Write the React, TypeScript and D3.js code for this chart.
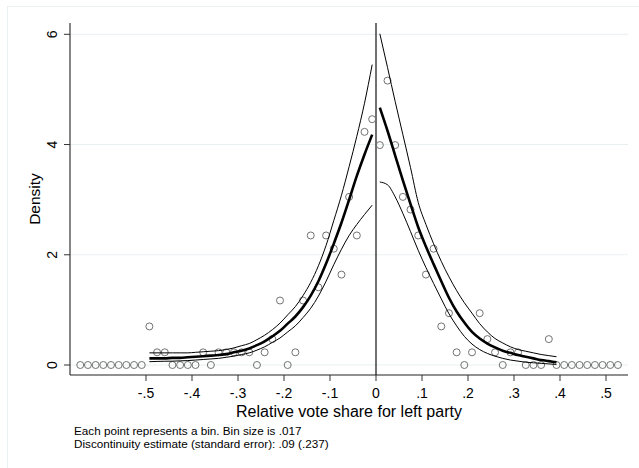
import React, { useEffect, useRef } from 'react';
import * as d3 from 'd3';

// bin midpoints (relative vote share), bins left and right of the cutoff
const binsLeft = [
  -0.6429, -0.6262, -0.6095, -0.5928, -0.5761, -0.5594, -0.5427, -0.526, -0.5093, -0.4926,
  -0.4759, -0.4592, -0.4425, -0.4258, -0.4091, -0.3924, -0.3757, -0.359, -0.3423, -0.3256,
  -0.3089, -0.2922, -0.2755, -0.2588, -0.2421, -0.2254, -0.2087, -0.192, -0.1753, -0.1586,
  -0.1419, -0.1252, -0.1085, -0.0918, -0.0751, -0.0584, -0.0417, -0.025, -0.0083,
];
const densityLeft = [
  0, 0, 0, 0, 0, 0, 0, 0, 0, 0.7,
  0.23, 0.23, 0, 0, 0, 0, 0.23, 0, 0.23, 0.23,
  0.23, 0.23, 0.23, 0, 0.23, 0.47, 1.17, 0, 0.23, 1.17,
  2.35, 1.41, 2.35, 2.11, 1.64, 3.05, 2.35, 4.23, 4.46,
];
const binsRight = [
  0.0083, 0.025, 0.0417, 0.0584, 0.0751, 0.0918, 0.1085, 0.1252, 0.1419, 0.1586,
  0.1753, 0.192, 0.2087, 0.2254, 0.2421, 0.2588, 0.2755, 0.2922, 0.3089, 0.3256,
  0.3423, 0.359, 0.3757, 0.3924, 0.4091, 0.4258, 0.4425, 0.4592, 0.4759, 0.4926,
  0.5093, 0.526,
];
const densityRight = [
  3.99, 5.16, 3.99, 3.05, 2.82, 2.35, 1.64, 2.11, 0.7, 0.94,
  0.23, 0, 0.23, 0.94, 0.47, 0.23, 0, 0.23, 0.23, 0,
  0, 0, 0.47, 0, 0, 0, 0, 0, 0, 0,
  0, 0,
];

// local linear fit and 95% bands, evaluated from -.4926 up to the cutoff
const fitLeft = [
  0.12, 0.12, 0.12, 0.13, 0.13, 0.14, 0.15, 0.16, 0.17, 0.18,
  0.2, 0.23, 0.26, 0.3, 0.36, 0.43, 0.52, 0.62, 0.75, 0.88,
  1.05, 1.26, 1.52, 1.84, 2.2, 2.58, 3.0, 3.43, 3.82, 4.18,
];
const upperLeft = [
  0.22, 0.22, 0.22, 0.22, 0.22, 0.22, 0.23, 0.24, 0.25, 0.26,
  0.28, 0.31, 0.35, 0.39, 0.46, 0.54, 0.64, 0.76, 0.91, 1.06,
  1.26, 1.5, 1.8, 2.17, 2.62, 3.08, 3.6, 4.15, 4.75, 5.45,
];
const lowerLeft = [
  0.06, 0.065, 0.068, 0.07, 0.075, 0.08, 0.09, 0.1, 0.11, 0.12,
  0.14, 0.16, 0.19, 0.22, 0.27, 0.33, 0.41, 0.49, 0.6, 0.71,
  0.86, 1.03, 1.25, 1.52, 1.82, 2.1, 2.35, 2.55, 2.73, 2.9,
];
// right side, from the cutoff up to .3924
const fitRight = [
  4.67, 4.25, 3.8, 3.35, 2.92, 2.5, 2.15, 1.83, 1.52, 1.22,
  0.97, 0.77, 0.6, 0.48, 0.39, 0.32, 0.26, 0.22, 0.18, 0.15,
  0.12, 0.09, 0.07, 0.05,
];
const upperRight = [
  6.01, 5.4, 4.78, 4.18, 3.58, 2.95, 2.55, 2.2, 1.88, 1.6,
  1.35, 1.13, 0.94, 0.75, 0.6, 0.48, 0.4, 0.33, 0.28, 0.25,
  0.22, 0.19, 0.17, 0.15,
];
const lowerRight = [
  3.32, 3.27, 3.05, 2.75, 2.42, 2.08, 1.77, 1.48, 1.2, 0.93,
  0.71, 0.52, 0.38, 0.28, 0.21, 0.16, 0.12, 0.09, 0.07, 0.05,
  0.04, 0.03, 0.02, 0.01,
];

const xTicks = [-0.5, -0.4, -0.3, -0.2, -0.1, 0, 0.1, 0.2, 0.3, 0.4, 0.5];
const xTickLabels = ['-.5', '-.4', '-.3', '-.2', '-.1', '0', '.1', '.2', '.3', '.4', '.5'];
const yTicks = [0, 2, 4, 6];

const notes = [
  'Each point represents a bin. Bin size is .017',
  'Discontinuity estimate (standard error): .09 (.237)',
];

const FONT = '"Liberation Sans", Arial, Helvetica, sans-serif';
const GRID = '#e9f0f2';

function App() {
  const svgRef = useRef(null);

  useEffect(() => {
    const svg = d3.select(svgRef.current);
    svg.selectAll('*').remove();

    const left = 70;
    const right = 628;
    const top = 23;
    const bottom = 375;

    const x = d3.scaleLinear().domain([-0.5, 0.5]).range([146, 606]);
    const y = d3.scaleLinear().domain([0, 6]).range([365, 34.3]);

    // outer frame (top and left edges visible)
    svg.append('rect')
      .attr('x', 7.5)
      .attr('y', 6.5)
      .attr('width', 700)
      .attr('height', 600)
      .attr('fill', 'none')
      .attr('stroke', GRID)
      .attr('stroke-width', 1);

    // gridlines
    svg.selectAll('line.grid')
      .data(yTicks)
      .enter()
      .append('line')
      .attr('class', 'grid')
      .attr('x1', left)
      .attr('x2', right)
      .attr('y1', d => y(d))
      .attr('y2', d => y(d))
      .attr('stroke', GRID)
      .attr('stroke-width', 1);

    // axes
    svg.append('line')
      .attr('x1', left).attr('x2', left)
      .attr('y1', top).attr('y2', bottom)
      .attr('stroke', '#222').attr('stroke-width', 1.1);
    svg.append('line')
      .attr('x1', left).attr('x2', right)
      .attr('y1', bottom).attr('y2', bottom)
      .attr('stroke', '#222').attr('stroke-width', 1.1);

    svg.selectAll('line.ytick')
      .data(yTicks)
      .enter()
      .append('line')
      .attr('class', 'ytick')
      .attr('x1', left - 6).attr('x2', left)
      .attr('y1', d => y(d)).attr('y2', d => y(d))
      .attr('stroke', '#333');

    svg.selectAll('text.ylab')
      .data(yTicks)
      .enter()
      .append('text')
      .attr('class', 'ylab')
      .attr('transform', d => `translate(57,${y(d)}) rotate(-90)`)
      .attr('text-anchor', 'middle')
      .attr('font-family', FONT)
      .attr('font-size', 14)
      .text(d => d);

    svg.selectAll('line.xtick')
      .data(xTicks)
      .enter()
      .append('line')
      .attr('class', 'xtick')
      .attr('x1', d => x(d)).attr('x2', d => x(d))
      .attr('y1', bottom).attr('y2', bottom + 6)
      .attr('stroke', '#333');

    svg.selectAll('text.xlab')
      .data(xTicks)
      .enter()
      .append('text')
      .attr('class', 'xlab')
      .attr('x', d => x(d))
      .attr('y', 398)
      .attr('text-anchor', 'middle')
      .attr('font-family', FONT)
      .attr('font-size', 14)
      .text((d, i) => xTickLabels[i]);

    svg.append('text')
      .attr('x', (left + right) / 2)
      .attr('y', 416.5)
      .attr('text-anchor', 'middle')
      .attr('font-family', FONT)
      .attr('font-size', 16)
      .text('Relative vote share for left party');

    svg.append('text')
      .attr('transform', `translate(40,${(top + bottom) / 2}) rotate(-90)`)
      .attr('text-anchor', 'middle')
      .attr('font-family', FONT)
      .attr('font-size', 15.5)
      .text('Density');

    notes.forEach((t, i) => {
      svg.append('text')
        .attr('x', 74)
        .attr('y', 434.5 + i * 13)
        .attr('font-family', FONT)
        .attr('font-size', 11.7)
        .text(t);
    });

    // cutoff line
    svg.append('line')
      .attr('x1', x(0)).attr('x2', x(0))
      .attr('y1', top).attr('y2', bottom)
      .attr('stroke', '#111').attr('stroke-width', 1.2);

    // binned densities
    const points = binsLeft.map((b, i) => [b, densityLeft[i]])
      .concat(binsRight.map((b, i) => [b, densityRight[i]]));
    svg.selectAll('circle')
      .data(points)
      .enter()
      .append('circle')
      .attr('cx', d => x(d[0]))
      .attr('cy', d => y(d[1]))
      .attr('r', 3.5)
      .attr('fill', 'none')
      .attr('stroke', '#727272')
      .attr('stroke-width', 1);

    // fitted densities and confidence bands
    const line = d3.line().x(d => x(d[0])).y(d => y(d[1])).curve(d3.curveMonotoneX);
    const leftX = binsLeft.slice(9);
    const rightX = binsRight.slice(0, fitRight.length);
    const curves = [
      [leftX, upperLeft, 1],
      [leftX, lowerLeft, 1],
      [leftX, fitLeft, 2.6],
      [rightX, upperRight, 1],
      [rightX, lowerRight, 1],
      [rightX, fitRight, 2.6],
    ];
    curves.forEach(([xs, vs, w]) => {
      svg.append('path')
        .datum(xs.map((v, i) => [v, vs[i]]))
        .attr('d', line)
        .attr('fill', 'none')
        .attr('stroke', '#000')
        .attr('stroke-width', w);
    });
  }, []);

  return (
    <svg
      ref={svgRef}
      width={639}
      height={468}
      style={{ position: 'absolute', left: 0, top: 0, background: '#fff' }}
    />
  );
}

export default App;
